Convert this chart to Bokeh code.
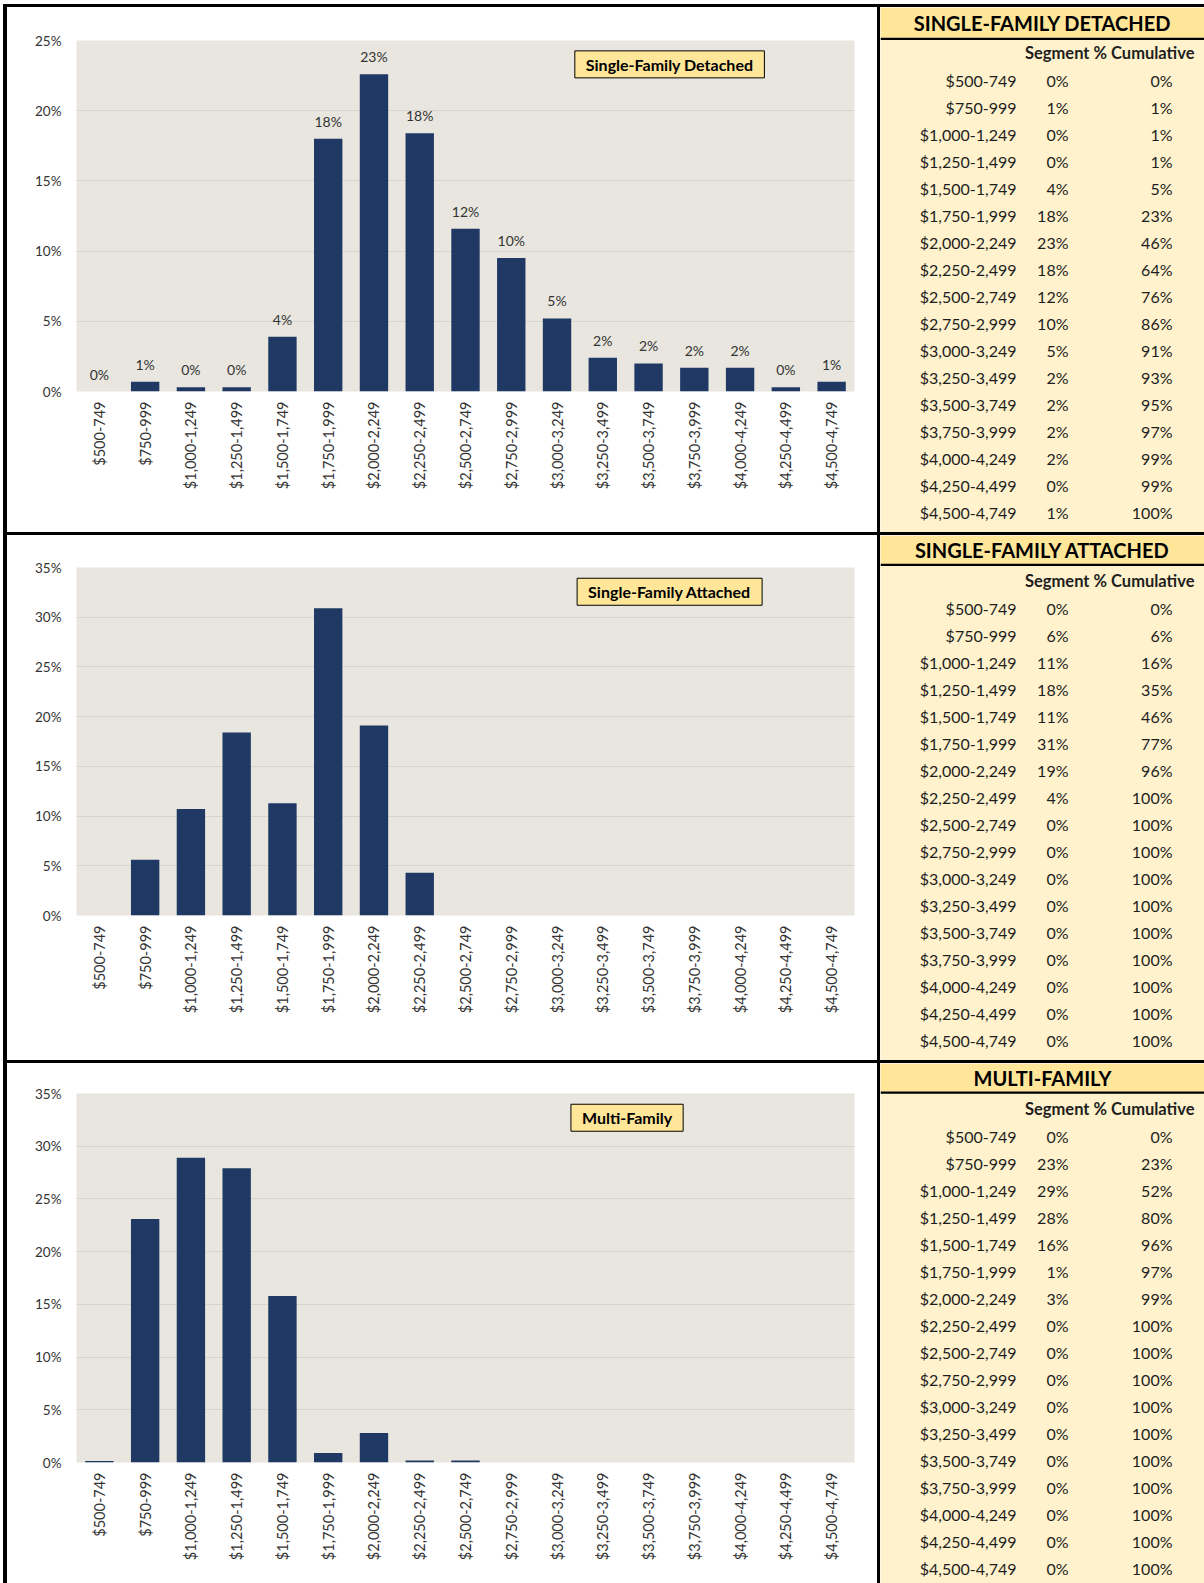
import math
from bokeh.plotting import figure
from bokeh.models import FactorRange, Range1d, FixedTicker, CustomJSTickFormatter, Label, Spacer
from bokeh.layouts import row, column
from bokeh.core.properties import value
from bokeh.embed import file_html
from bokeh.resources import INLINE

# ---------------- data ----------------
categories = ["$500-749", "$750-999", "$1,000-1,249", "$1,250-1,499", "$1,500-1,749",
              "$1,750-1,999", "$2,000-2,249", "$2,250-2,499", "$2,500-2,749", "$2,750-2,999",
              "$3,000-3,249", "$3,250-3,499", "$3,500-3,749", "$3,750-3,999", "$4,000-4,249",
              "$4,250-4,499", "$4,500-4,749"]

# bar heights (percent of segment)
sfd_pct = [0.0, 0.7, 0.3, 0.3, 3.9, 18.0, 22.6, 18.4, 11.6, 9.5, 5.2, 2.4, 2.0, 1.7, 1.7, 0.3, 0.7]
sfd_bar_labels = ["0%", "1%", "0%", "0%", "4%", "18%", "23%", "18%", "12%", "10%", "5%",
                  "2%", "2%", "2%", "2%", "0%", "1%"]
sfa_pct = [0.0, 5.6, 10.7, 18.4, 11.3, 30.9, 19.1, 4.3, 0, 0, 0, 0, 0, 0, 0, 0, 0]
mf_pct = [0.15, 23.1, 28.9, 27.9, 15.8, 0.9, 2.8, 0.2, 0.2, 0, 0, 0, 0, 0, 0, 0, 0]

# table values (rounded percent)
sfd_seg = [0, 1, 0, 0, 4, 18, 23, 18, 12, 10, 5, 2, 2, 2, 2, 0, 1]
sfd_cum = [0, 1, 1, 1, 5, 23, 46, 64, 76, 86, 91, 93, 95, 97, 99, 99, 100]
sfa_seg = [0, 6, 11, 18, 11, 31, 19, 4, 0, 0, 0, 0, 0, 0, 0, 0, 0]
sfa_cum = [0, 6, 16, 35, 46, 77, 96, 100, 100, 100, 100, 100, 100, 100, 100, 100, 100]
mf_seg = [0, 23, 29, 28, 16, 1, 3, 0, 0, 0, 0, 0, 0, 0, 0, 0, 0]
mf_cum = [0, 23, 52, 80, 96, 97, 99, 100, 100, 100, 100, 100, 100, 100, 100, 100, 100]

table_titles = ["SINGLE-FAMILY DETACHED", "SINGLE-FAMILY ATTACHED", "MULTI-FAMILY"]
chart_names = ["Single-Family Detached", "Single-Family Attached", "Multi-Family"]
table_header = "Segment % Cumulative"

# ---------------- style ----------------
FONT = "Lato"
PLOT_BG = "#E8E6DF"
GRID = "#D6D4CE"
BAR = "#1F3864"
HEAD = "#FFE699"
CREAM = "#FFF2CC"
TXT = "#1E1E1E"
TICK = "#333333"
BLACK = {"background-color": "black"}

CHART_W = 870
TABLE_W = 324
TX0 = 880  # page x where the table column starts


def chart(vals, ymax, h, top, frame_h, name, lx, ly, bar_labels=None):
    p = figure(width=CHART_W, height=h,
               x_range=FactorRange(factors=categories),
               y_range=Range1d(0, ymax),
               output_backend="svg", toolbar_location=None,
               min_border_left=69, min_border_right=23,
               min_border_top=top, min_border_bottom=h - top - frame_h)
    p.background_fill_color = PLOT_BG
    p.border_fill_color = "white"
    p.outline_line_color = None
    p.xgrid.grid_line_color = None
    p.ygrid.grid_line_color = GRID
    p.ygrid.ticker = FixedTicker(ticks=list(range(0, ymax + 1, 5)))

    p.yaxis.ticker = FixedTicker(ticks=list(range(0, ymax + 1, 5)))
    p.yaxis.formatter = CustomJSTickFormatter(code="return tick.toFixed(0) + '%';")
    for ax in (p.xaxis, p.yaxis):
        ax.axis_line_color = None
        ax.major_tick_line_color = None
        ax.minor_tick_line_color = None
        ax.major_tick_out = 0
        ax.major_tick_in = 0
        ax.minor_tick_out = 0
        ax.major_label_text_font = FONT
        ax.major_label_text_color = TICK
    p.yaxis.major_label_text_font_size = "13.5px"
    p.yaxis.major_label_standoff = 15
    p.xaxis.major_label_text_font_size = "14.5px"
    p.xaxis.major_label_orientation = math.pi / 2
    p.xaxis.major_label_standoff = 10

    p.vbar(x=categories, top=vals, width=0.62, fill_color=BAR, line_color=None)

    if bar_labels is not None:
        p.text(x=categories, y=vals, text=bar_labels, text_align="center",
               text_baseline="bottom", y_offset=-9, text_font=value(FONT),
               text_font_size="14px", text_color=TICK)

    p.add_layout(Label(x=lx, y=ly, text=name, text_align="center", text_baseline="middle",
                       text_font=FONT, text_font_style="bold", text_font_size="16px",
                       text_color="black", background_fill_color=HEAD,
                       border_line_color="black", border_line_width=1, padding=(11, 4)))
    return p


def table(title, seg, cum, h, band_h):
    t = figure(width=TABLE_W, height=h, x_range=Range1d(TX0, TX0 + TABLE_W),
               y_range=Range1d(h, 0), x_axis_type=None, y_axis_type=None,
               output_backend="svg", toolbar_location=None, min_border=0)
    t.background_fill_color = CREAM
    t.border_fill_color = CREAM
    t.outline_line_color = None
    t.grid.visible = False
    t.quad(left=[TX0], right=[TX0 + TABLE_W], top=[0], bottom=[band_h],
           fill_color=HEAD, line_color=None)
    t.quad(left=[TX0], right=[TX0 + TABLE_W], top=[band_h], bottom=[band_h + 2.3],
           fill_color="black", line_color=None)
    t.text(x=[1042], y=[band_h / 2 + 0.5], text=[title], text_align="center",
           text_baseline="middle", text_font=value(FONT), text_font_style="bold",
           text_font_size="20px", text_color="black")
    t.text(x=[1194], y=[45.5], text=[table_header], text_align="right", text_baseline="middle",
           text_font=value(FONT), text_font_style="bold", text_font_size="16.5px", text_color=TXT)
    ys = [72.5 + 27 * i for i in range(len(categories))]
    common = dict(text_align="right", text_baseline="middle", text_font=value(FONT),
                  text_font_size="16px", text_color=TXT)
    t.text(x=[1016] * len(categories), y=ys, text=categories, **common)
    t.text(x=[1068] * len(categories), y=ys, text=[f"{v}%" for v in seg], **common)
    t.text(x=[1172] * len(categories), y=ys, text=[f"{v}%" for v in cum], **common)
    return t


H1, H2, H3 = 525, 525, 520
c1 = chart(sfd_pct, 25, H1, 33, 351, chart_names[0], 12.96, 23.3, sfd_bar_labels)
c2 = chart(sfa_pct, 35, H2, 32, 348, chart_names[1], 12.96, 32.56)
c3 = chart(mf_pct, 35, H3, 30, 369, chart_names[2], 12.03, 32.7)

t1 = table(table_titles[0], sfd_seg, sfd_cum, H1, 30.3)
t2 = table(table_titles[1], sfa_seg, sfa_cum, H2, 28.3)
t3 = table(table_titles[2], mf_seg, mf_cum, H3, 28.0)

TOTAL_H = H1 + H2 + H3 + 6


def hline(w):
    return Spacer(width=w, height=3, styles=BLACK)


charts_col = column(c1, hline(CHART_W), c2, hline(CHART_W), c3)
tables_col = column(t1, hline(TABLE_W), t2, hline(TABLE_W), t3)
main = row(Spacer(width=4, height=TOTAL_H, styles=BLACK), charts_col,
           Spacer(width=3, height=TOTAL_H, styles=BLACK), tables_col)
framed = column(Spacer(width=4 + CHART_W + 3 + TABLE_W, height=3, styles=BLACK), main)
layout = column(Spacer(width=1204, height=4),
                row(Spacer(width=3, height=TOTAL_H + 3), framed))

open("out.html", "w").write(file_html(layout, INLINE))
